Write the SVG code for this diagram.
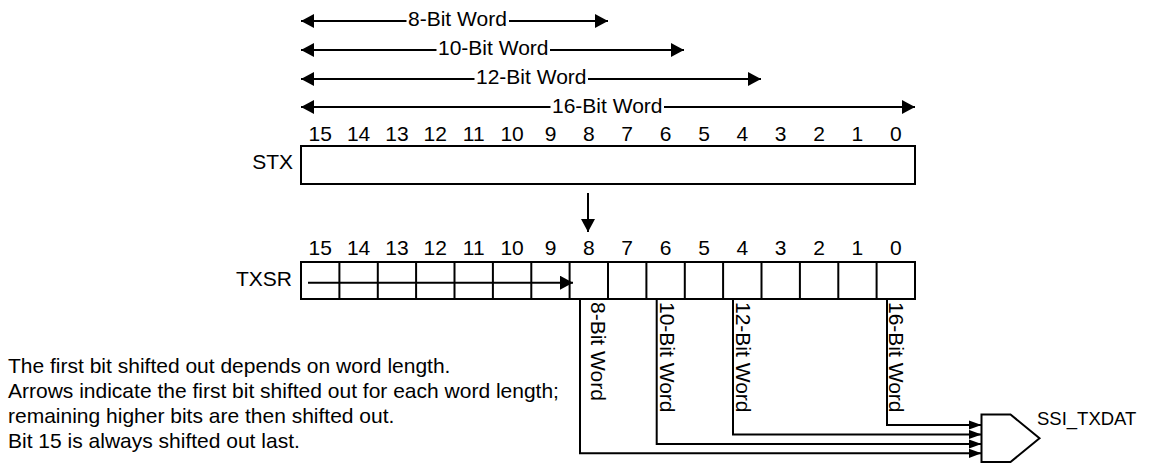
<svg xmlns="http://www.w3.org/2000/svg" width="1158" height="464" viewBox="0 0 1158 464">
<style>
text{font-family:"Liberation Sans",Arial,sans-serif;font-size:21px;fill:#000}
.c{text-anchor:middle}
.e{text-anchor:end}
.box{fill:#fff;stroke:#000;stroke-width:2}
.ln{fill:none;stroke:#000;stroke-width:2}
</style>
<defs>
<marker id="ah" markerUnits="userSpaceOnUse" markerWidth="14" markerHeight="14" refX="13" refY="7" orient="auto-start-reverse"><path d="M0,0 L13,7 L0,14 z" fill="#000"/></marker>
<marker id="as" markerUnits="userSpaceOnUse" markerWidth="14" markerHeight="10" refX="13" refY="5" orient="auto"><path d="M0,0.2 L13,5 L0,9.8 z" fill="#000"/></marker>
</defs>

<g id="word-ranges">
<path class="ln" d="M301,21 H406.5" marker-start="url(#ah)"/>
<text x="408" y="26">8-Bit Word</text>
<path class="ln" d="M509,21 H608" marker-end="url(#ah)"/>
<path class="ln" d="M301,50 H436.5" marker-start="url(#ah)"/>
<text x="438" y="55">10-Bit Word</text>
<path class="ln" d="M550,50 H684" marker-end="url(#ah)"/>
<path class="ln" d="M301,79 H474.5" marker-start="url(#ah)"/>
<text x="476" y="84">12-Bit Word</text>
<path class="ln" d="M588,79 H761" marker-end="url(#ah)"/>
<path class="ln" d="M301,107 H550.5" marker-start="url(#ah)"/>
<text x="552" y="112.7">16-Bit Word</text>
<path class="ln" d="M664,107 H915" marker-end="url(#ah)"/>
</g>

<g id="stx">
<g class="c">
<text x="320.2" y="141">15</text><text x="358.6" y="141">14</text><text x="397" y="141">13</text><text x="435.3" y="141">12</text>
<text x="473.7" y="141">11</text><text x="512.1" y="141">10</text><text x="550.5" y="141">9</text><text x="588.8" y="141">8</text>
<text x="627.2" y="141">7</text><text x="665.6" y="141">6</text><text x="704" y="141">5</text><text x="742.3" y="141">4</text>
<text x="780.7" y="141">3</text><text x="819.1" y="141">2</text><text x="857.4" y="141">1</text><text x="895.8" y="141">0</text>
</g>
<text class="e" x="293" y="169">STX</text>
<rect class="box" x="301" y="146" width="614" height="38"/>
</g>

<g id="txsr">
<g class="c">
<text x="320.2" y="255">15</text><text x="358.6" y="255">14</text><text x="397" y="255">13</text><text x="435.3" y="255">12</text>
<text x="473.7" y="255">11</text><text x="512.1" y="255">10</text><text x="550.5" y="255">9</text><text x="588.8" y="255">8</text>
<text x="627.2" y="255">7</text><text x="665.6" y="255">6</text><text x="704" y="255">5</text><text x="742.3" y="255">4</text>
<text x="780.7" y="255">3</text><text x="819.1" y="255">2</text><text x="857.4" y="255">1</text><text x="895.8" y="255">0</text>
</g>
<text class="e" x="292" y="286">TXSR</text>
<rect class="box" x="301" y="262" width="614" height="37"/>
<path class="ln" d="M339.4,262V299M377.8,262V299M416.1,262V299M454.5,262V299M492.9,262V299M531.3,262V299M569.6,262V299M608,262V299M646.4,262V299M684.8,262V299M723.1,262V299M761.5,262V299M799.9,262V299M838.3,262V299M876.6,262V299"/>
</g>

<g id="gate">
<path class="box" d="M981.5,414.5 H1010.5 L1039.5,438.3 L1010.5,462 H981.5 Z"/>
<text x="1037" y="425" style="font-size:18.5px">SSI_TXDAT</text>
</g>

<g id="note">
<text x="8" y="373">The first bit shifted out depends on word length.</text>
<text x="8" y="398">Arrows indicate the first bit shifted out for each word length;</text>
<text x="8" y="423">remaining higher bits are then shifted out.</text>
<text x="8" y="448">Bit 15 is always shifted out last.</text>
</g>

<g id="connectors">
<path class="ln" d="M588,193 V232" marker-end="url(#ah)"/>
<path class="ln" d="M308,282.7 H573" marker-end="url(#ah)"/>
<path class="ln" d="M580,299 V453.3 H981.5" marker-end="url(#as)"/>
<path class="ln" d="M656.7,299 V444 H981.5" marker-end="url(#as)"/>
<path class="ln" d="M733,299 V434.5 H981.5" marker-end="url(#as)"/>
<path class="ln" d="M887,299 V425 H981.5" marker-end="url(#as)"/>
<text transform="translate(590.5,302) rotate(90)">8-Bit Word</text>
<text transform="translate(659.5,302) rotate(90)">10-Bit Word</text>
<text transform="translate(736,302) rotate(90)">12-Bit Word</text>
<text transform="translate(889,302) rotate(90)">16-Bit Word</text>
</g>
</svg>
